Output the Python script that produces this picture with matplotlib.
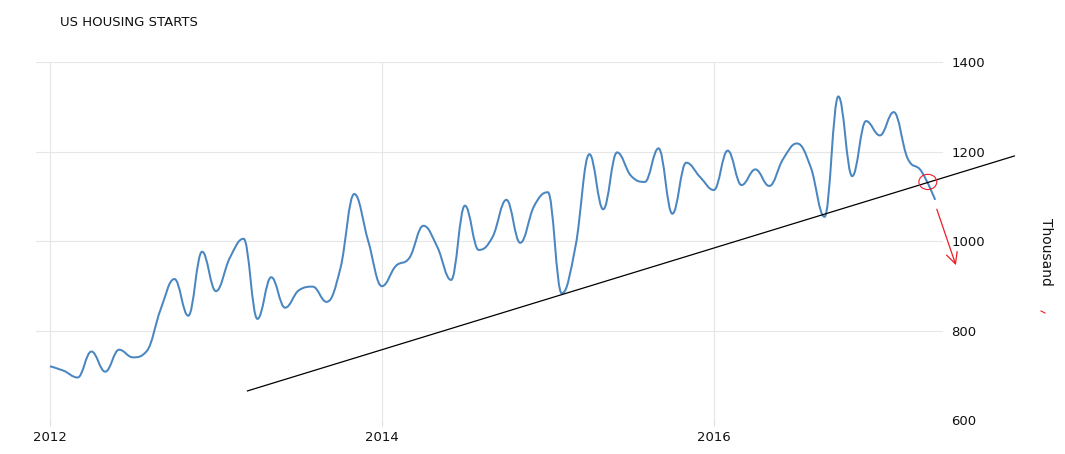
import numpy as np
import matplotlib
matplotlib.use("Agg")
import matplotlib.pyplot as plt
from matplotlib.path import Path
from matplotlib.patches import PathPatch, Ellipse

# monthly US housing starts (thousand units), Jan 2012 .. May 2017
starts = [720, 710, 695, 753, 708, 757, 740, 754, 847, 915, 833, 976,
          888, 962, 1005, 826, 919, 851, 890, 898, 864, 939, 1105, 1001,
          899, 944, 963, 1034, 987, 913, 1079, 980, 1009, 1092, 996, 1078,
          1109, 883, 989, 1194, 1071, 1198, 1146, 1132, 1207, 1061, 1175, 1143,
          1114, 1202, 1125, 1160, 1123, 1183, 1218, 1165, 1054, 1323, 1145, 1268,
          1236, 1288, 1185, 1156, 1092]
months = 2012 + np.arange(len(starts)) / 12.0

year_ticks = [2012, 2014, 2016]
value_ticks = [600, 800, 1000, 1200, 1400]

# hand-drawn annotations on the chart
trend_x = [2013.19, 2017.81]
trend_y = [665, 1190]
arrow_from = (2017.343, 1071)
arrow_to = (2017.458, 946)
circle_at = (2017.289, 1132)


def spline_path(xs, ys, smoothing=1.5):
    # highcharts style spline through the points
    n = len(xs)
    left = [(xs[i], ys[i]) for i in range(n)]
    right = [(xs[i], ys[i]) for i in range(n)]
    d = smoothing + 1
    for i in range(1, n - 1):
        x, y = xs[i], ys[i]
        px, py = xs[i - 1], ys[i - 1]
        nx, ny = xs[i + 1], ys[i + 1]
        lx = (smoothing * x + px) / d
        ly = (smoothing * y + py) / d
        rx = (smoothing * x + nx) / d
        ry = (smoothing * y + ny) / d
        if rx != lx:
            corr = ((ry - ly) * (rx - x)) / (rx - lx) + y - ry
            ly += corr
            ry += corr
        if ly > py and ly > y:
            ly = max(py, y)
            ry = 2 * y - ly
        elif ly < py and ly < y:
            ly = min(py, y)
            ry = 2 * y - ly
        if ry > ny and ry > y:
            ry = max(ny, y)
            ly = 2 * y - ry
        elif ry < ny and ry < y:
            ry = min(ny, y)
            ly = 2 * y - ry
        left[i] = (lx, ly)
        right[i] = (rx, ry)
    verts = [(xs[0], ys[0])]
    codes = [Path.MOVETO]
    for i in range(1, n):
        verts += [right[i - 1], left[i], (xs[i], ys[i])]
        codes += [Path.CURVE4] * 3
    return Path(verts, codes)


fig = plt.figure(figsize=(10.65, 4.54), dpi=100)
ax = fig.add_axes([0.0338, 0.0749, 0.8516, 0.7885])

ax.add_patch(PathPatch(spline_path(list(months), starts), facecolor="none",
                       edgecolor="#4a86c0", lw=1.45, zorder=3))

ax.set_xlim(2011.916, 2017.38)
ax.set_ylim(600, 1400)

# trend line, arrow and circle drawn over the chart
ax.plot(trend_x, trend_y, color="black", lw=0.9, clip_on=False, zorder=4)
ax.annotate("", xy=arrow_to, xytext=arrow_from,
            arrowprops=dict(arrowstyle="->", color="#ee1c25", lw=0.9,
                            mutation_scale=20, shrinkA=0, shrinkB=0),
            annotation_clip=False, zorder=5)
ax.add_patch(Ellipse(circle_at, 0.108, 34, facecolor="none",
                     edgecolor="#ee1c25", lw=0.8, clip_on=False, zorder=5))

ax.set_xticks(year_ticks)
ax.set_xticklabels([str(y) for y in year_ticks])
ax.set_yticks(value_ticks)
ax.yaxis.tick_right()
ax.tick_params(axis="y", length=0, pad=6, labelsize=9.5, labelcolor="#111111")
ax.tick_params(axis="x", length=4, color="#dddddd", pad=4, labelsize=9.5,
               labelcolor="#111111")
ax.grid(True, color="#e6e6e6", lw=0.8)
for s in ax.spines.values():
    s.set_visible(False)

fig.text(60 / 1065, 1 - 23 / 454, "US HOUSING STARTS", fontsize=9.5,
         va="center", ha="left", color="#111111")
fig.text(1046 / 1065, 1 - 252 / 454, "Thousand", fontsize=10, rotation=-90,
         va="center", ha="center", color="#111111")
fig.add_artist(plt.Line2D([1041 / 1065, 1045 / 1065], [1 - 311 / 454, 1 - 313 / 454],
                          color="#ee1c25", lw=0.8))

fig.savefig("out.png", dpi=100, facecolor="white")
